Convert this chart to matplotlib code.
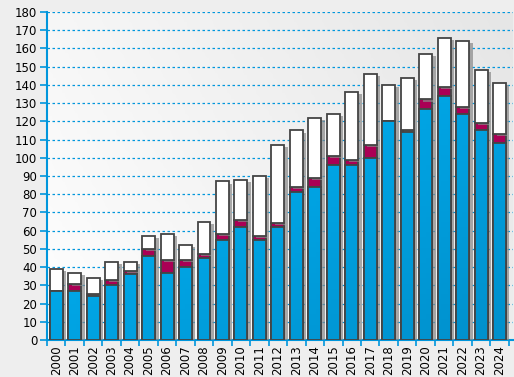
import matplotlib
matplotlib.use('Agg')
import matplotlib.pyplot as plt
import matplotlib.patheffects as pe
import numpy as np

years = [str(y) for y in range(2000, 2025)]
# stacked values: blue (bottom), magenta (middle), total height
blue = [27, 27, 24, 30, 36, 46, 37, 40, 45, 55, 62, 55, 62, 81, 84, 96, 96, 100, 120, 114, 127, 134, 124, 115, 108]
magenta_top = [27, 31, 25, 33, 38, 50, 44, 44, 47, 58, 66, 57, 64, 84, 89, 101, 99, 107, 120, 115, 132, 139, 128, 119, 113]
total = [39, 37, 34, 43, 43, 57, 58, 52, 65, 87, 88, 90, 107, 115, 122, 124, 136, 146, 140, 144, 157, 166, 164, 148, 141]

magenta = [m - b for m, b in zip(magenta_top, blue)]
white = [t - m for t, m in zip(total, magenta_top)]

fig = plt.figure(figsize=(5.14, 3.77), dpi=100)
fig.patch.set_facecolor('#eeeeee')
ax = fig.add_axes([47 / 514, 37 / 377, 466 / 514, 328 / 377])

x = np.arange(len(years))
ax.set_xlim(-0.49, 24.73)
ax.set_ylim(0, 180)

# background gradient of the plot area
grad = np.add.outer(np.linspace(0.3, 0, 64), np.linspace(0, 0.7, 256))
bg = plt.matplotlib.colors.LinearSegmentedColormap.from_list('bg', ['#fefefe', '#e6e6e6'])
ax.imshow(grad, cmap=bg, vmin=0, vmax=1, extent=(-0.49, 24.73, 0, 180), aspect='auto', zorder=0)

for v in range(10, 190, 10):
    ax.axhline(v, color='#0096dc', lw=0.9, ls=(0, (2, 2)), zorder=1)

edge = '#444444'
shadow = [pe.SimplePatchShadow(offset=(2.5, -1.5), shadow_rgbFace='#888888', alpha=0.7), pe.Normal()]
w = 0.7
bars_b = ax.bar(x, blue, width=w, color='#00a4e4', edgecolor=edge, lw=1.3, zorder=3, path_effects=shadow)
ax.bar(x, magenta, width=w, bottom=blue, color='#aa0055', edgecolor=edge, lw=1.3, zorder=3, path_effects=shadow)
ax.bar(x, white, width=w, bottom=magenta_top, color='white', edgecolor=edge, lw=1.3, zorder=3, path_effects=shadow)

# gradient fill inside the blue bars (lighter top-left, darker bottom-right)
bcmap = plt.matplotlib.colors.LinearSegmentedColormap.from_list('bb', ['#00bbff', '#0090cc'])
g2 = np.add.outer(np.linspace(0, 0.55, 64), np.linspace(0, 0.45, 64))
for rect in bars_b:
    im = ax.imshow(g2, cmap=bcmap, vmin=0, vmax=1, extent=(-0.49, 24.73, 0, 180),
                   aspect='auto', zorder=3.5, origin='upper')
    im.set_clip_path(rect)
for rect in bars_b:
    r2 = plt.Rectangle(rect.get_xy(), rect.get_width(), rect.get_height(),
                       fill=False, edgecolor=edge, lw=1.3, zorder=3.6)
    ax.add_patch(r2)

ax.set_xticks(x)
ax.set_xticklabels(years, rotation=90, fontsize=8.5)
ax.set_xticks(np.arange(-0.5, 25, 1), minor=True)
ax.tick_params(axis='x', which='major', length=0, pad=4)
ax.tick_params(axis='x', which='minor', length=4, color='#0096dc', width=1.2)
ax.set_yticks(range(0, 190, 10))
ax.tick_params(axis='y', length=5, color='#0096dc', width=1.2, labelsize=8.5, pad=2)

for s in ['top', 'right']:
    ax.spines[s].set_visible(False)
for s in ['left', 'bottom']:
    ax.spines[s].set_color('#0096dc')
    ax.spines[s].set_linewidth(1.5)

fig.savefig('out.png', dpi=100, facecolor=fig.get_facecolor())
